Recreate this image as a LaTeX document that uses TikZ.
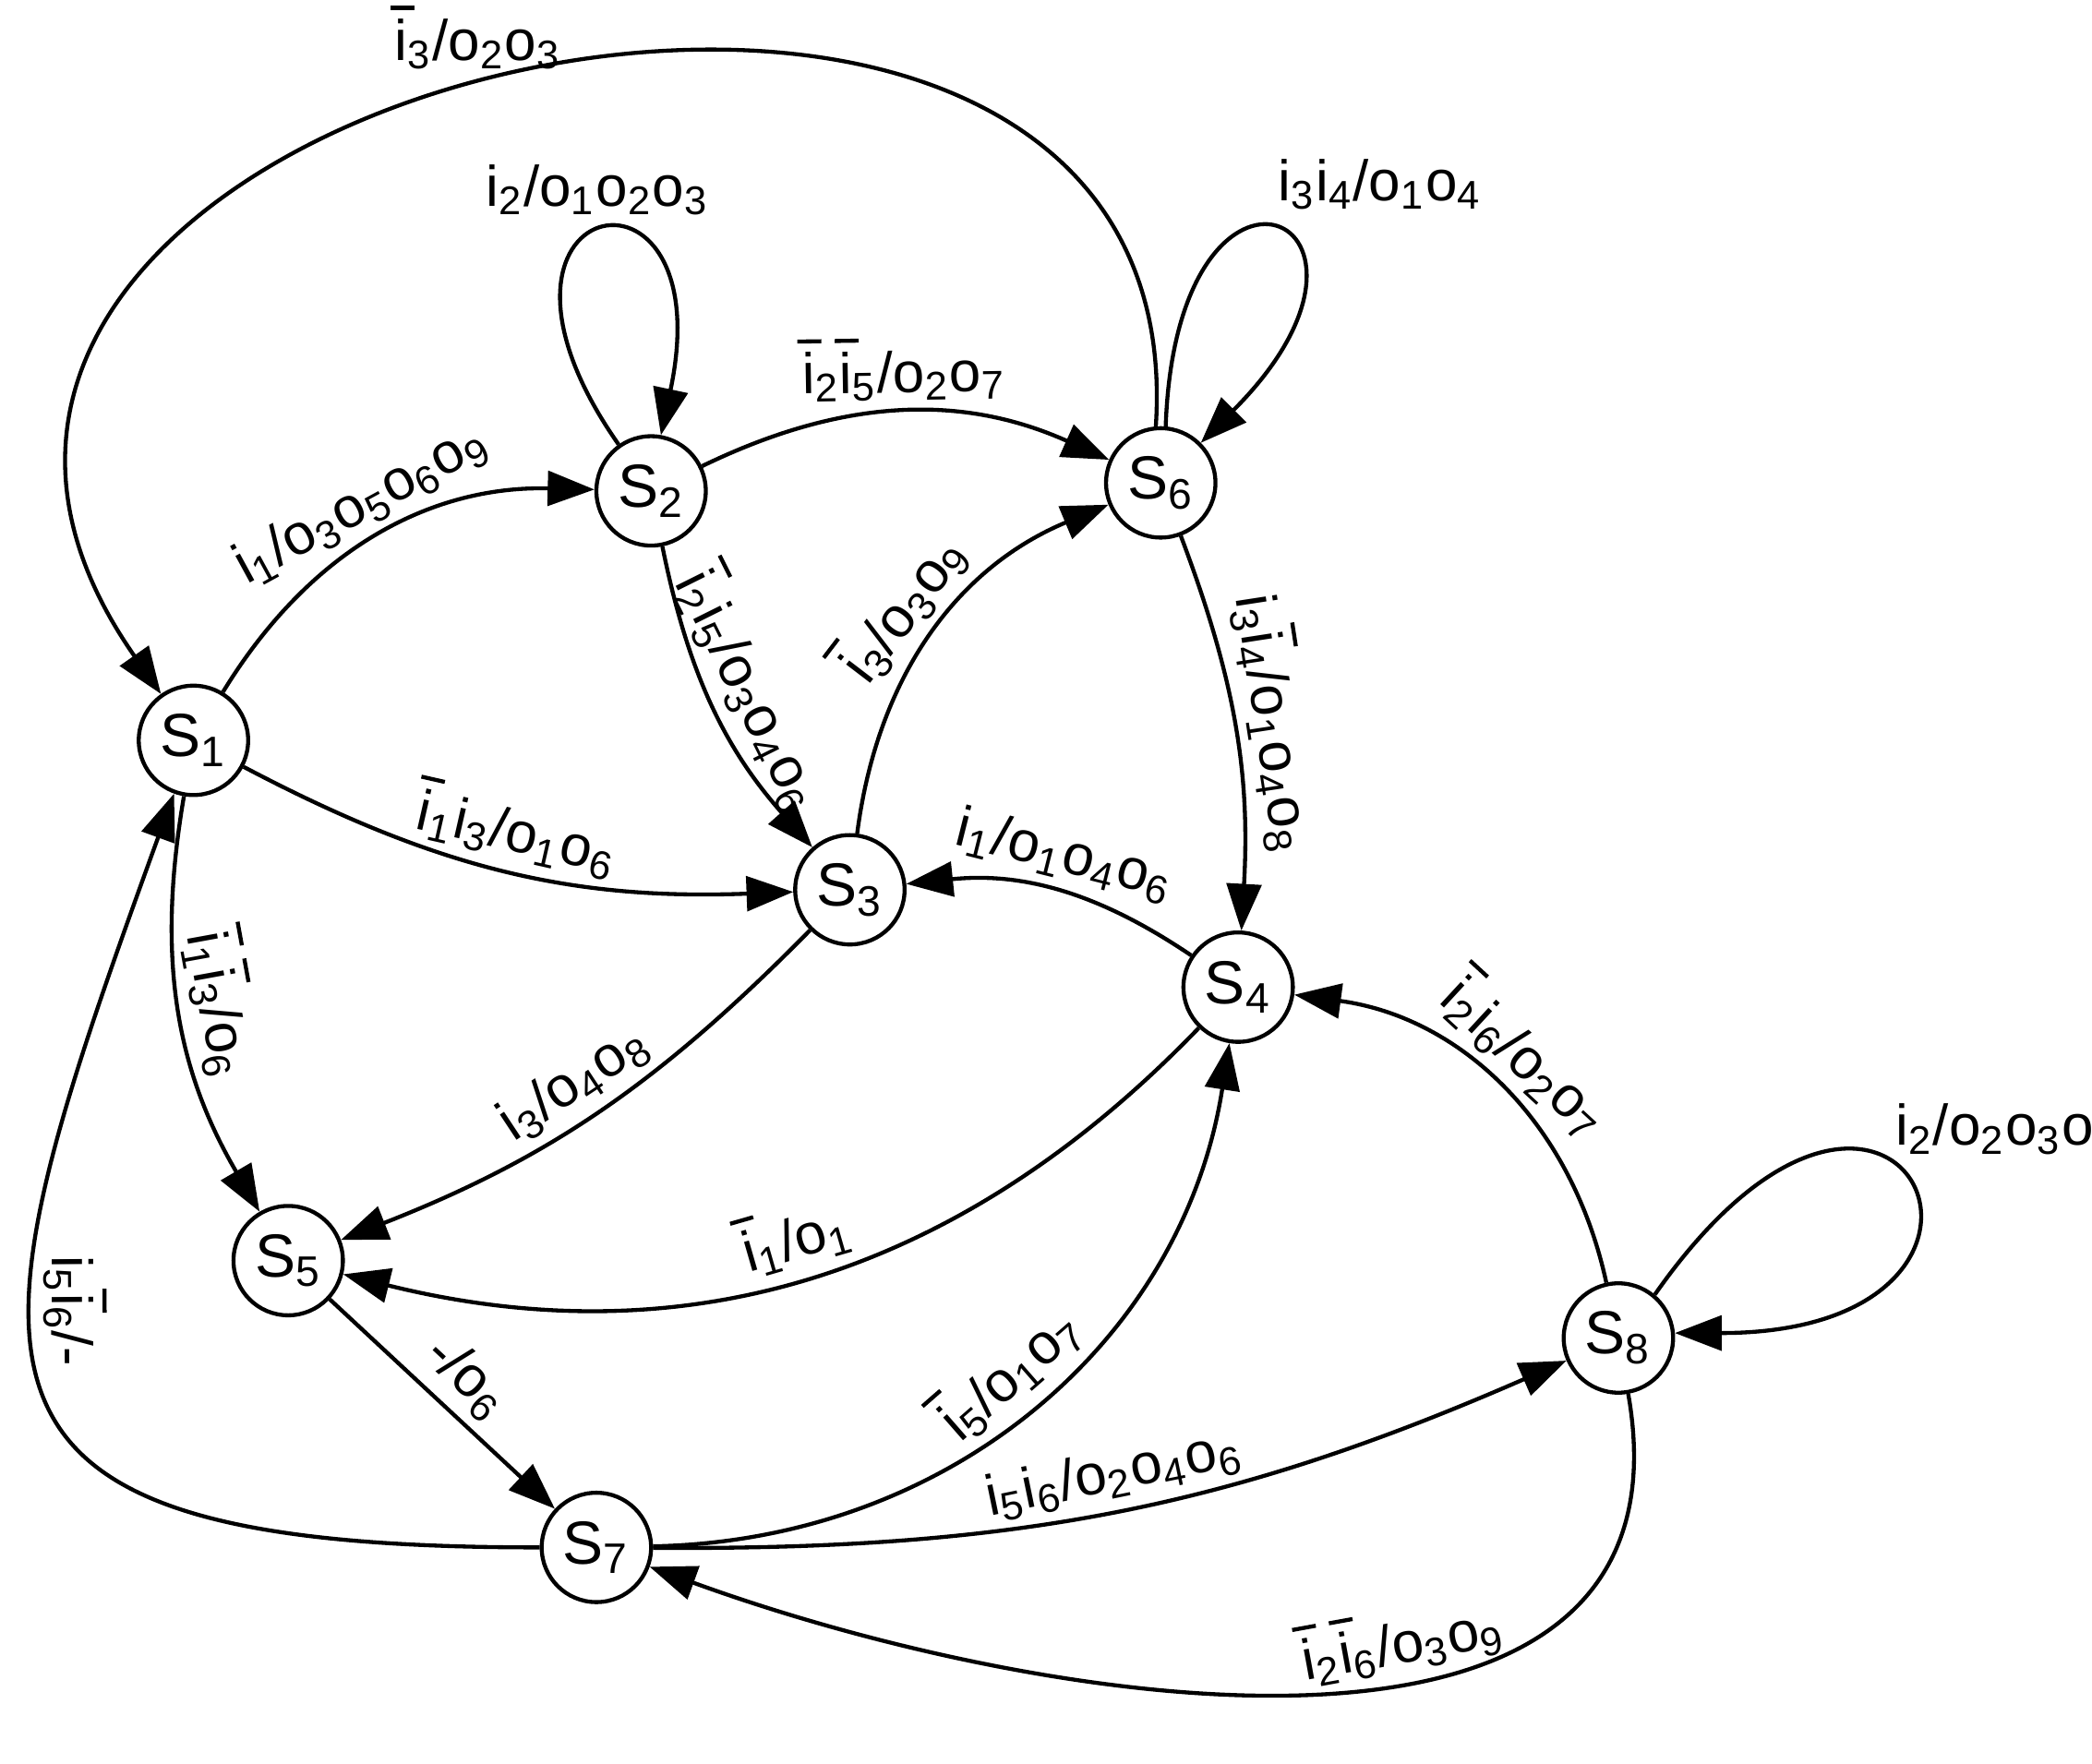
\documentclass[tikz,border=0pt]{standalone}
\usepackage{fontspec}
\setmainfont{Liberation Sans}
\usetikzlibrary{arrows.meta}
\newcommand{\inp}[1]{i\textsubscript{#1}}
\newcommand{\ninp}[1]{\makebox[0pt][l]{\hspace{-0.08em}\rule[0.88em]{0.42em}{0.07em}}i\textsubscript{#1}}
\newcommand{\outp}[1]{o\textsubscript{#1}}
\newcommand{\st}[1]{S\textsubscript{#1}}
\begin{document}
\begin{tikzpicture}[
    font=\fontsize{12.2}{14}\selectfont,
    state/.style={circle, draw, line width=0.85pt, minimum size=0.82cm, inner sep=0pt, font=\fontsize{13}{15}\selectfont},
    edge/.style={-{Triangle[length=3.5mm,width=2.6mm]}, line width=0.85pt},
    lbl/.style={sloped, inner sep=2pt}
]
    \useasboundingbox (0,0) rectangle (15.68,13.22);

    \node[state] (S1) at (1.45,7.67) {\st{1}};
    \node[state] (S2) at (4.88,9.54) {\st{2}};
    \node[state] (S6) at (8.70,9.60) {\st{6}};
    \node[state] (S3) at (6.37,6.55) {\st{3}};
    \node[state] (S4) at (9.28,5.82) {\st{4}};
    \node[state] (S5) at (2.16,3.77) {\st{5}};
    \node[state] (S7) at (4.47,1.62) {\st{7}};
    \node[state] (S8) at (12.13,3.19) {\st{8}};

    \draw[edge] (S1) to[bend left=30] node[lbl, above] {\inp{1}/\outp{3}\outp{5}\outp{6}\outp{9}} (S2);
    \draw[edge] (S6.95) .. controls (9.0,15.1) and (-2,12.6) .. node[pos=0.52, above] {\ninp{3}/\outp{2}\outp{3}} (S1.125);
    \draw[edge] (S2.125) .. controls +(125:2.3) and +(78:2.3) .. node[above] {\inp{2}/\outp{1}\outp{2}\outp{3}} (S2.80);
    \draw[edge] (S2) to[bend left=25] node[lbl, above] {\ninp{2}\ninp{5}/\outp{2}\outp{7}} (S6);
    \draw[edge] (S2) to[bend right=15] node[lbl, above] {\ninp{2}\inp{5}/\outp{3}\outp{4}\outp{6}} (S3);
    \draw[edge] (S3) to[bend left=30] node[lbl, above] {\ninp{3}/\outp{3}\outp{9}} (S6);
    \draw[edge] (S6.85) .. controls +(88:2.4) and +(45:2.4) .. node[above right, pos=0.45] {\inp{3}\inp{4}/\outp{1}\outp{4}} (S6.45);
    \draw[edge] (S6) to[bend left=12] node[lbl, above] {\inp{3}\ninp{4}/\outp{1}\outp{4}\outp{8}} (S4);
    \draw[edge] (S1) to[bend right=15] node[lbl, above] {\ninp{1}\inp{3}/\outp{1}\outp{6}} (S3);
    \draw[edge] (S1) to[bend right=20] node[lbl, above] {\ninp{1}\ninp{3}/\outp{6}} (S5);
    \draw[edge] (S4) to[bend right=20] node[lbl, above] {\inp{1}/\outp{1}\outp{4}\outp{6}} (S3);
    \draw[edge] (S3) to[bend left=12] node[lbl, above] {\inp{3}/\outp{4}\outp{8}} (S5);
    \draw[edge] (S4) to[bend left=30] node[lbl, above] {\ninp{1}/\outp{1}} (S5);
    \draw[edge] (S5) -- node[lbl, above] {-/\outp{6}} (S7);
    \draw[edge] (S7) to[bend right=40] node[lbl, above] {\ninp{5}/\outp{1}\outp{7}} (S4);
    \draw[edge] (S7) to[out=180, in=250, looseness=1.9] node[lbl, above, pos=0.6] {\inp{5}\ninp{6}/-} (S1);
    \draw[edge] (S7) to[bend right=12] node[lbl, above] {\inp{5}\inp{6}/\outp{2}\outp{4}\outp{6}} (S8);
    \draw[edge] (S8) to[out=-80, in=-20, looseness=1.1] node[lbl, above, pos=0.42] {\ninp{2}\ninp{6}/\outp{3}\outp{9}} (S7);
    \draw[edge] (S8) to[bend right=35] node[lbl, above] {\ninp{2}\inp{6}/\outp{2}\outp{7}} (S4);
    \draw[edge] (S8.50) .. controls +(55:3.2) and +(0:3.0) .. node[above right, pos=0.42, inner sep=1pt] {\inp{2}/\outp{2}\outp{3}\outp{6}} (S8.5);
\end{tikzpicture}
\end{document}
